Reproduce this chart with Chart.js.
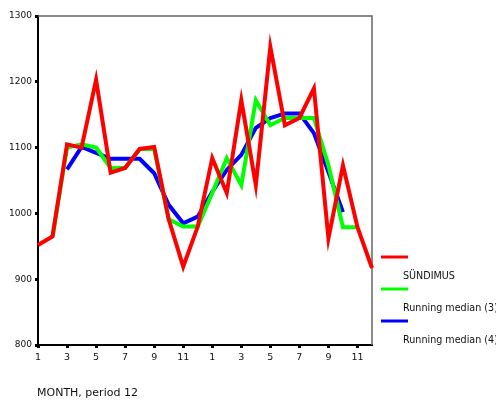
<!DOCTYPE html>
<html>
<head>
<meta charset="utf-8">
<script src="https://cdn.jsdelivr.net/npm/chart.js@4"></script>
<style>
  body { margin: 0; background: #fff; }
  canvas { display: block; }
</style>
</head>
<body>
<canvas id="chart" width="496" height="400"></canvas>
<script>
// ==================================================
// DATA
// ==================================================
const months = ["1","2","3","4","5","6","7","8","9","10","11","12",
                "1","2","3","4","5","6","7","8","9","10","11","12"];
const yTicks = [800, 900, 1000, 1100, 1200, 1300];

// SÜNDIMUS (births) per month
const sundimus = [952, 965, 1105, 1100, 1203, 1062, 1069, 1098, 1101, 991, 919, 980,
                  1084, 1031, 1172, 1043, 1253, 1134, 1145, 1190, 962, 1073, 979, 917];
// running median (3)
const median3 = [null, 965, 1100, 1105, 1100, 1069, 1069, 1098, 1098, 991, 980, 980,
                 1031, 1084, 1043, 1172, 1134, 1145, 1145, 1145, 1073, 979, 979, null];
// running median (4)
const median4 = [null, null, 1067, 1101, 1092, 1083, 1083, 1083, 1061, 1013, 985, 995,
                 1033, 1066, 1089, 1130, 1145, 1152, 1152, 1122, 1063, 1002, null, null];

const legendItems = [
  { label: "SÜNDIMUS", color: "#ff0000" },
  { label: "Running median (3)", color: "#00ff00" },
  { label: "Running median (4)", color: "#0000ff" },
];

const FONT = "'DejaVu Sans', Verdana, sans-serif";

// ==================================================
// PLUGINS: frame, legend, axis title
// ==================================================
const framePlugin = {
  id: "frame",
  beforeDatasetsDraw(chart) {
    const { ctx, chartArea: a } = chart;
    ctx.save();
    ctx.strokeStyle = "#666";
    ctx.lineWidth = 1.5;
    ctx.beginPath();
    ctx.moveTo(a.left, a.top);
    ctx.lineTo(a.right, a.top);
    ctx.lineTo(a.right, a.bottom);
    ctx.stroke();
    ctx.restore();
  },
};

const legendPlugin = {
  id: "sideLegend",
  afterDraw(chart) {
    const ctx = chart.ctx;
    ctx.save();
    ctx.font = "9.6px " + FONT;
    ctx.textBaseline = "middle";
    ctx.fillStyle = "#111";
    legendItems.forEach((item, i) => {
      const y = 257 + i * 32;
      ctx.strokeStyle = item.color;
      ctx.lineWidth = 3;
      ctx.beginPath();
      ctx.moveTo(381, y);
      ctx.lineTo(408, y);
      ctx.stroke();
      ctx.fillText(item.label, 403, y + 19.5);
    });
    // x axis title
    ctx.font = "11px " + FONT;
    ctx.fillText("MONTH, period 12", 37, 393);
    ctx.restore();
  },
};

// ==================================================
// CHART
// ==================================================
const ctx = document.getElementById("chart").getContext("2d");
const myChart = new Chart(ctx, {
  type: "line",
  data: {
    labels: months,
    datasets: [
      { label: "SÜNDIMUS", data: sundimus, borderColor: "#ff0000", borderWidth: 4 },
      { label: "Running median (3)", data: median3, borderColor: "#00ff00", borderWidth: 4 },
      { label: "Running median (4)", data: median4, borderColor: "#0000ff", borderWidth: 4 },
    ],
  },
  options: {
    responsive: false,
    animation: false,
    layout: { padding: { left: 0, top: 16, right: 124, bottom: 0 } },
    elements: {
      point: { radius: 0 },
      line: { tension: 0, borderJoinStyle: "miter" },
    },
    plugins: {
      legend: { display: false },
      tooltip: { enabled: false },
    },
    scales: {
      x: {
        type: "category",
        offset: false,
        afterFit: (scale) => { scale.height = 55; },
        border: { display: true, color: "#000", width: 2 },
        grid: {
          drawOnChartArea: false,
          tickLength: 3,
          tickWidth: 3,
          tickColor: (c) => (c.index % 2 === 0 ? "#000" : "rgba(0,0,0,0)"),
        },
        ticks: {
          autoSkip: false,
          maxRotation: 0,
          padding: 4,
          color: "#111",
          font: { family: FONT, size: 9.5 },
          callback: function (value, index) {
            return index % 2 === 0 ? months[index] : "";
          },
        },
      },
      y: {
        min: 800,
        max: 1300,
        afterFit: (scale) => { scale.width = 38; },
        afterBuildTicks: (scale) => { scale.ticks = yTicks.map((v) => ({ value: v })); },
        border: { display: true, color: "#000", width: 2 },
        grid: {
          drawOnChartArea: false,
          tickLength: 3,
          tickWidth: 3,
          tickColor: "#000",
        },
        ticks: {
          padding: 3,
          color: "#111",
          font: { family: FONT, size: 9 },
          callback: (value) => String(value),
        },
      },
    },
  },
  plugins: [framePlugin, legendPlugin],
});
</script>
</body>
</html>
